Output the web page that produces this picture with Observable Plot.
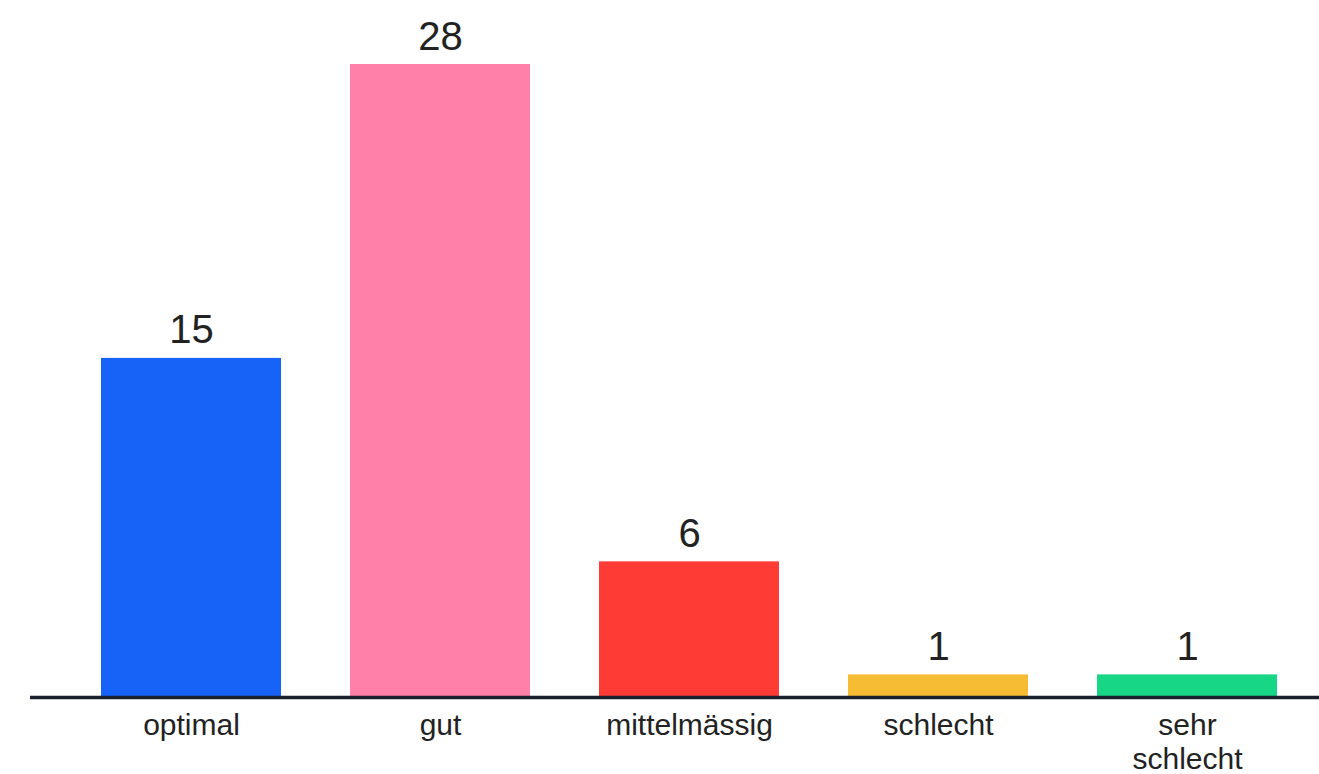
<!DOCTYPE html>
<html>
<head>
<meta charset="utf-8">
<script src="https://cdn.jsdelivr.net/npm/d3@7"></script>
<script src="https://cdn.jsdelivr.net/npm/@observablehq/plot@0.6"></script>
<style>
  html, body { margin: 0; padding: 0; background: #fff; }
  #chart svg { display: block; }
</style>
</head>
<body>
<div id="chart"></div>
<script>
const categories = ["optimal", "gut", "mittelmässig", "schlecht", "sehr schlecht"];
const tickLabels = ["optimal", "gut", "mittelmässig", "schlecht", "sehr\nschlecht"];
const values = [15, 28, 6, 1, 1];
const colors = ["#1762f7", "#ff80a8", "#ff3b36", "#f6bc33", "#17d685"];

const data = categories.map((c, i) => ({cat: c, value: values[i]}));
const labelOf = new Map(categories.map((c, i) => [c, tickLabels[i]]));

const chart = Plot.plot({
  width: 1319,
  height: 774,
  marginLeft: 30,
  marginRight: 0,
  marginTop: 64,
  marginBottom: 77,
  style: {fontFamily: "'Liberation Sans', Arial, sans-serif", background: "#fff"},
  x: {domain: categories, paddingInner: 0.277, paddingOuter: 0.226, align: 0.625, label: null},
  y: {domain: [0, 28], axis: null},
  color: {domain: categories, range: colors},
  marks: [
    Plot.barY(data, {x: "cat", y: "value", fill: "cat"}),
    Plot.ruleY([0], {stroke: "#1b1e2b", strokeWidth: 3.5}),
    Plot.text(data, {x: "cat", y: "value", text: d => String(d.value), lineAnchor: "bottom", dy: -15, fontSize: 40, fill: "#222"}),
    Plot.axisX({tickSize: 0, tickPadding: 13, fontSize: 30, fill: "#222", lineHeight: 1.15, tickFormat: d => labelOf.get(d), label: null})
  ]
});
document.getElementById("chart").appendChild(chart);
</script>
</body>
</html>
